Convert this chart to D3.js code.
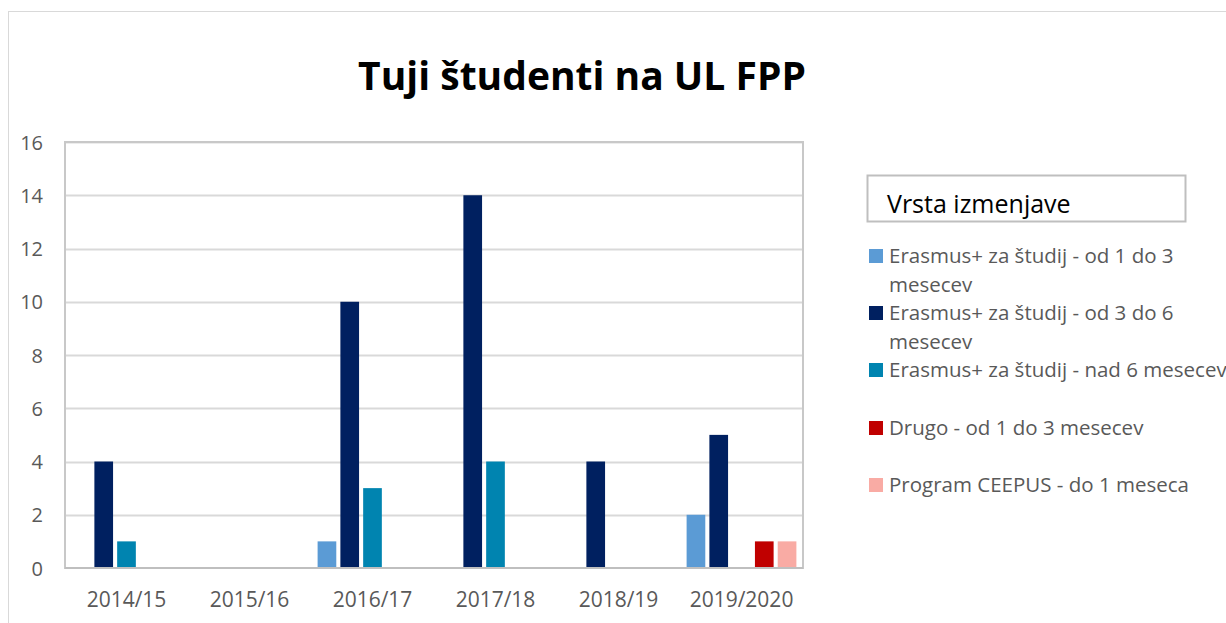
<!DOCTYPE html>
<html>
<head>
<meta charset="utf-8">
<script src="https://cdn.jsdelivr.net/npm/d3@7"></script>
<style>
  body { margin: 0; background: #fff; overflow: hidden; }
  text { font-family: "Open Sans", Lato, sans-serif; }
</style>
</head>
<body>
<div id="viz"></div>
<script>
// podatki
var years = ["2014/15", "2015/16", "2016/17", "2017/18", "2018/19", "2019/2020"]
var seriesNames = [
    "Erasmus+ za študij - od 1 do 3 mesecev",
    "Erasmus+ za študij - od 3 do 6 mesecev",
    "Erasmus+ za študij - nad 6 mesecev",
    "Drugo - od 1 do 3 mesecev",
    "Program CEEPUS - do 1 meseca"
]
var erasmus13 = [0, 0, 1, 0, 0, 2]
var erasmus36 = [4, 0, 10, 14, 4, 5]
var erasmusNad6 = [1, 0, 3, 4, 0, 0]
var drugo13 = [0, 0, 0, 0, 0, 1]
var ceepus = [0, 0, 0, 0, 0, 1]
var yTicks = [0, 2, 4, 6, 8, 10, 12, 14, 16]
var colors = ["#5B9BD5", "#002060", "#0084B0", "#C00000", "#F9ABA4"]

// legend lines (wrapped like in the original)
var legendLines = [
    ["Erasmus+ za študij - od 1 do 3", "mesecev"],
    ["Erasmus+ za študij - od 3 do 6", "mesecev"],
    ["Erasmus+ za študij - nad 6 mesecev"],
    ["Drugo - od 1 do 3 mesecev"],
    ["Program CEEPUS - do 1 meseca"]
]

var allSeries = [erasmus13, erasmus36, erasmusNad6, drugo13, ceepus]

var width = 1226, height = 623
var plot = {left: 65, top: 142, right: 803, bottom: 568}

var svg = d3.select("#viz")
    .append("svg")
    .attr("width", width)
    .attr("height", height)
    .style("display", "block")

// outer chart border
svg.append("rect")
    .attr("x", 8.5)
    .attr("y", 11.5)
    .attr("width", 1240)
    .attr("height", 640)
    .style("fill", "none")
    .style("stroke", "#d9d9d9")

// title
svg.append("text")
    .attr("x", 582)
    .attr("y", 90)
    .attr("text-anchor", "middle")
    .style("font-size", "39px")
    .style("font-weight", "bold")
    .style("fill", "#000")
    .text("Tuji študenti na UL FPP")

var x0 = d3.scaleBand()
    .domain(years)
    .range([plot.left, plot.right])

var x1 = d3.scaleBand()
    .domain(d3.range(seriesNames.length))
    .range([0, x0.bandwidth()])
    .paddingInner(0.18)
    .paddingOuter(0.29)

var y = d3.scaleLinear()
    .domain([0, 16])
    .range([plot.bottom, plot.top])

// gridlines
svg.append("g")
    .selectAll("line")
    .data(yTicks.filter(d => d > 0))
    .enter()
    .append("line")
    .attr("x1", plot.left)
    .attr("x2", plot.right)
    .attr("y1", d => Math.round(y(d)) + 0.5)
    .attr("y2", d => Math.round(y(d)) + 0.5)
    .style("stroke", "#d9d9d9")
    .style("stroke-width", 2)

// plot area border
svg.append("rect")
    .attr("x", plot.left)
    .attr("y", plot.top)
    .attr("width", plot.right - plot.left)
    .attr("height", plot.bottom - plot.top)
    .style("fill", "none")
    .style("stroke", "#c8c8c8")
    .style("stroke-width", 2)

// y axis labels
var yAxis = svg.append("g")
    .attr("transform", "translate(" + (plot.left - 22) + ",0)")
    .call(d3.axisLeft(y).tickValues(yTicks).tickSize(0).tickPadding(0))
yAxis.select(".domain").remove()
yAxis.selectAll("text")
    .style("font-size", "20px")
    .style("fill", "#595959")
    .attr("dy", "0.36em")

// bars
var barData = []
years.forEach((yr, i) => {
    allSeries.forEach((s, j) => {
        barData.push({year: yr, series: j, value: s[i]})
    })
})

svg.append("g")
    .selectAll("rect")
    .data(barData.filter(d => d.value > 0))
    .enter()
    .append("rect")
    .attr("x", d => x0(d.year) + x1(d.series))
    .attr("y", d => y(d.value))
    .attr("width", x1.bandwidth())
    .attr("height", d => y(0) - y(d.value))
    .style("fill", d => colors[d.series])

// x axis line
svg.append("line")
    .attr("x1", plot.left)
    .attr("x2", plot.right)
    .attr("y1", plot.bottom)
    .attr("y2", plot.bottom)
    .style("stroke", "#bfbfbf")
    .style("stroke-width", 2)

// x axis labels
var xAxis = svg.append("g")
    .attr("transform", "translate(0," + (plot.bottom + 39) + ")")
    .call(d3.axisBottom(x0).tickSize(0).tickPadding(0))
xAxis.select(".domain").remove()
xAxis.selectAll("text")
    .style("font-size", "21px")
    .style("fill", "#595959")
    .attr("y", 0)
    .attr("dy", 0)

// legend
var legend = svg.append("g")

legend.append("rect")
    .attr("x", 867.5)
    .attr("y", 175.5)
    .attr("width", 318)
    .attr("height", 46)
    .style("fill", "none")
    .style("stroke", "#bfbfbf")
    .style("stroke-width", 2)

legend.append("text")
    .attr("x", 887)
    .attr("y", 213)
    .style("font-size", "25px")
    .style("fill", "#000")
    .text("Vrsta izmenjave")

var legendY = [263, 320, 377, 435, 492]

var item = legend.selectAll("g.item")
    .data(legendLines)
    .enter()
    .append("g")
    .attr("class", "item")
    .attr("transform", (d, i) => "translate(869," + legendY[i] + ")")

item.append("rect")
    .attr("x", 0)
    .attr("y", -14)
    .attr("width", 14)
    .attr("height", 14)
    .style("fill", (d, i) => colors[i])

item.selectAll("text")
    .data(d => d)
    .enter()
    .append("text")
    .attr("x", 20)
    .attr("y", (d, k) => k * 29)
    .style("font-size", "20.5px")
    .style("fill", "#595959")
    .text(d => d)
</script>
</body>
</html>
